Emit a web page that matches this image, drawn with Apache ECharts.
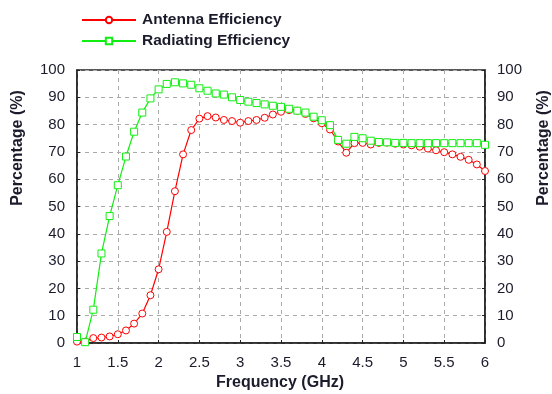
<!DOCTYPE html>
<html>
<head>
<meta charset="utf-8">
<script src="https://cdn.jsdelivr.net/npm/echarts@6/dist/echarts.min.js"></script>
<style>html,body{margin:0;padding:0;background:#fff;}#c{width:552px;height:394px;}</style>
</head>
<body>
<div id="c"></div>
<script>
const frequencies = [1.0,1.1,1.2,1.3,1.4,1.5,1.6,1.7,1.8,1.9,2.0,2.1,2.2,2.3,2.4,2.5,2.6,2.7,2.8,2.9,3.0,3.1,3.2,3.3,3.4,3.5,3.6,3.7,3.8,3.9,4.0,4.1,4.2,4.3,4.4,4.5,4.6,4.7,4.8,4.9,5.0,5.1,5.2,5.3,5.4,5.5,5.6,5.7,5.8,5.9,6.0];
const antennaEfficiency = [0.5,0.5,1.8,2.0,2.4,3.2,4.6,7.1,10.8,17.5,27.0,40.7,55.6,69.1,78.0,82.2,83.1,82.6,81.7,81.3,80.7,81.3,81.7,82.5,83.7,84.7,85.3,85.1,83.9,82.3,80.5,78.2,73.8,69.7,73.2,73.3,72.7,73.3,73.4,73.0,72.7,72.4,71.9,71.2,70.6,69.9,69.1,68.2,67.1,65.4,63.0];
const radiatingEfficiency = [2.2,0.3,12.2,32.8,46.5,57.8,68.3,77.4,84.4,89.6,92.9,94.9,95.5,95.1,94.6,93.3,92.4,91.4,91.0,90.0,89.0,88.4,87.9,87.4,86.9,86.5,85.8,85.1,84.4,82.9,81.6,79.8,74.4,73.0,75.5,75.0,74.1,73.6,73.5,73.3,73.3,73.2,73.2,73.2,73.2,73.2,73.2,73.2,73.2,73.2,72.6];
const seriesNames = ['Antenna Efficiency','Radiating Efficiency'];
const xAxisTitle = 'Frequency (GHz)';
const yAxisTitle = 'Percentage (%)';

const txt = '#1b1b2b';
const font = 'Liberation Sans, Arial, sans-serif';
const chart = echarts.init(document.getElementById('c'), null, {renderer:'canvas'});
const pairs = vals => frequencies.map((f,i)=>[f, vals[i]]);
const yAx = (pos) => ({
  type:'value', position:pos, min:0, max:100, interval:10,
  axisLine:{show:true, lineStyle:{color:'#222', width:1.5}},
  axisTick:{show:true, inside:true, length:3, lineStyle:{color:'#222'}},
  axisLabel:{color:txt, fontSize:15, fontFamily:font, margin:12},
  splitLine:{show: pos==='left', lineStyle:{color:'#aaa', type:[4,4], width:1}}
});
chart.setOption({
  animation:false,
  grid:{left:77, right:67, top:70, bottom:51, show:true, borderColor:'#222', borderWidth:1.5},
  legend:{
    orient:'vertical', left:76, top:7, itemWidth:54, itemHeight:8, itemGap:5,
    textStyle:{color:txt, fontSize:15.5, fontWeight:'bold', fontFamily:font, padding:[0,0,0,1]},
    data:seriesNames
  },
  xAxis:{
    type:'value', min:1, max:6, interval:0.5,
    axisLine:{lineStyle:{color:'#222', width:1.5}},
    axisTick:{inside:true, length:3, lineStyle:{color:'#222'}},
    axisLabel:{color:txt, fontSize:15, fontFamily:font, margin:12},
    splitLine:{show:true, lineStyle:{color:'#aaa', type:[4,4], width:1}}
  },
  yAxis:[yAx('left'), yAx('right')],
  graphic:[
    {type:'text', style:{text:xAxisTitle, font:'bold 16px '+font, fill:txt, textAlign:'center', textVerticalAlign:'middle'}, x:280, y:383},
    {type:'text', style:{text:yAxisTitle, font:'bold 16px '+font, fill:txt, textAlign:'center', textVerticalAlign:'middle'}, x:18, y:148, rotation:Math.PI/2},
    {type:'text', style:{text:yAxisTitle, font:'bold 16px '+font, fill:txt, textAlign:'center', textVerticalAlign:'middle'}, x:544, y:148, rotation:Math.PI/2}
  ],
  series:[
    {name:seriesNames[0], type:'line', data:pairs(antennaEfficiency), symbol:'circle', symbolSize:7,
     lineStyle:{color:'#ff0000', width:1.2}, itemStyle:{color:'#fff', borderColor:'#ff0000', borderWidth:1}, color:'#ff0000'},
    {name:seriesNames[1], type:'line', data:pairs(radiatingEfficiency), symbol:'rect', symbolSize:7,
     lineStyle:{color:'#11ee11', width:1.2}, itemStyle:{color:'#fff', borderColor:'#11ee11', borderWidth:1}, color:'#11ee11'}
  ]
});
</script>
</body>
</html>
